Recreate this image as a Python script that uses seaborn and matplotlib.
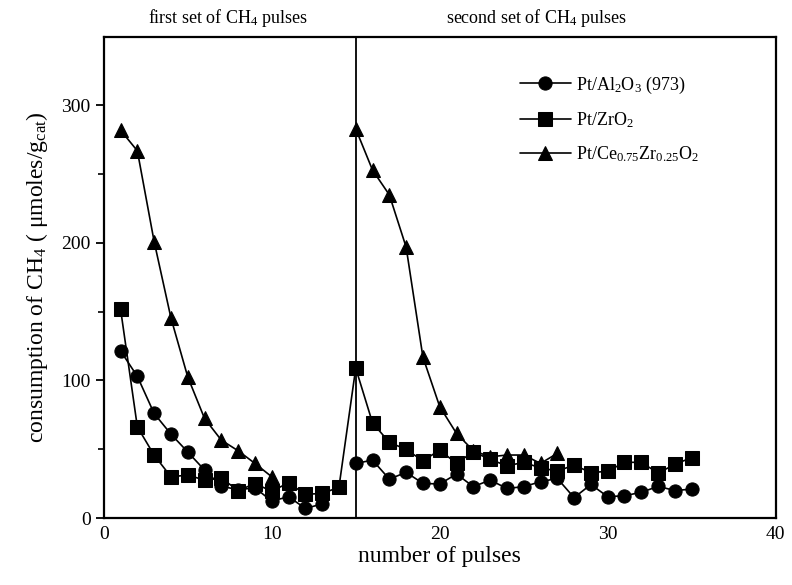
import numpy as np
import pandas as pd
import matplotlib
matplotlib.use("Agg")
import matplotlib.pyplot as plt
import seaborn as sns

# ---- data ----
al_x1 = list(range(1, 14))
al_y1 = [121.5, 103, 76, 61, 48, 34.9, 23.2, 20.5, 22, 12.3, 15.5, 7, 10.2]
al_x2 = list(range(15, 36))
al_y2 = [39.7, 42.1, 28.3, 33.2, 25.2, 24.7, 32, 22.8, 27.6, 21.5, 22.8, 26.4,
         28.8, 14.8, 24.4, 15.5, 16.2, 18.7, 23, 20, 21]

zr_x = list(range(1, 36))
zr_y = [152, 66.3, 45.7, 30, 31.2, 27.6, 29, 20, 25, 19.5, 25.6, 17.2, 17.9, 22.3,
        109, 69.2, 55, 49.9, 41.6, 49.4, 39.7, 48.2, 42.6, 38, 40.4, 36.5, 34.1,
        38.5, 33, 34, 40.5, 40.5, 32.7, 39, 44]

ce_x1 = list(range(1, 11))
ce_y1 = [282, 267, 201, 145.5, 102.6, 72.4, 56.6, 48.9, 39.7, 30]
ce_x2 = list(range(15, 28))
ce_y2 = [283, 253, 235, 197, 117, 81, 61.5, 49, 44.5, 45.8, 45.8, 39.7, 47]

labels = ["Pt/Al$_2$O$_3$ (973)", "Pt/ZrO$_2$", "Pt/Ce$_{0.75}$Zr$_{0.25}$O$_2$"]

rows = []
for x, y in zip(al_x1, al_y1):
    rows.append((x, y, labels[0], "a1"))
for x, y in zip(al_x2, al_y2):
    rows.append((x, y, labels[0], "a2"))
for x, y in zip(zr_x, zr_y):
    rows.append((x, y, labels[1], "z1"))
for x, y in zip(ce_x1, ce_y1):
    rows.append((x, y, labels[2], "c1"))
for x, y in zip(ce_x2, ce_y2):
    rows.append((x, y, labels[2], "c2"))
df = pd.DataFrame(rows, columns=["pulse", "value", "catalyst", "seg"])

# ---- style ----
sns.set_theme(style="ticks")
plt.rcParams["font.family"] = ["Liberation Serif", "DejaVu Serif"]
plt.rcParams["mathtext.default"] = "regular"
plt.rcParams["text.color"] = "black"
plt.rcParams["axes.labelcolor"] = "black"
plt.rcParams["xtick.color"] = "black"
plt.rcParams["ytick.color"] = "black"

fig = plt.figure(figsize=(7.92, 5.85), dpi=100)
ax = fig.add_axes([0.131, 0.1145, 0.8484, 0.8228])

sns.lineplot(data=df, x="pulse", y="value", style="catalyst", units="seg",
             estimator=None, sort=False, markers={labels[0]: "o", labels[1]: "s", labels[2]: "^"},
             dashes=False, color="black", markersize=9.5, linewidth=1.2,
             markeredgecolor="black", ax=ax, style_order=labels)

ax.axvline(15, color="black", lw=1.3)

ax.set_xlim(0, 40)
ax.set_ylim(0, 350)
ax.set_xticks([0, 10, 20, 30, 40])
ax.set_yticks([0, 100, 200, 300])
ax.set_yticks([50, 150, 250], minor=True)
ax.tick_params(axis="x", length=0, labelsize=14, pad=6)
ax.tick_params(axis="y", which="major", length=6, width=1.3, direction="out", labelsize=14)
ax.tick_params(axis="y", which="minor", length=4, width=1.2, direction="out")
for s in ax.spines.values():
    s.set_linewidth(1.6)
    s.set_color("black")

ax.set_xlabel("number of pulses", fontsize=17, labelpad=2)
ax.set_ylabel("consumption of CH$_4$ ( \u03bcmoles/g$_{cat}$)", fontsize=17, labelpad=8)

fig.text(228 / 792, 1 - 18 / 585, "first set of CH$_4$ pulses", ha="center", va="center", fontsize=13)
fig.text(537 / 792, 1 - 18 / 585, "second set of CH$_4$ pulses", ha="center", va="center", fontsize=13)

handles, labs = ax.get_legend_handles_labels()
ax.legend(handles, labs, loc="upper right", bbox_to_anchor=(0.91, 0.955), frameon=False,
          fontsize=13, handlelength=2.8, labelspacing=0.8, handletextpad=0.3)

fig.savefig("out.png", dpi=100)
